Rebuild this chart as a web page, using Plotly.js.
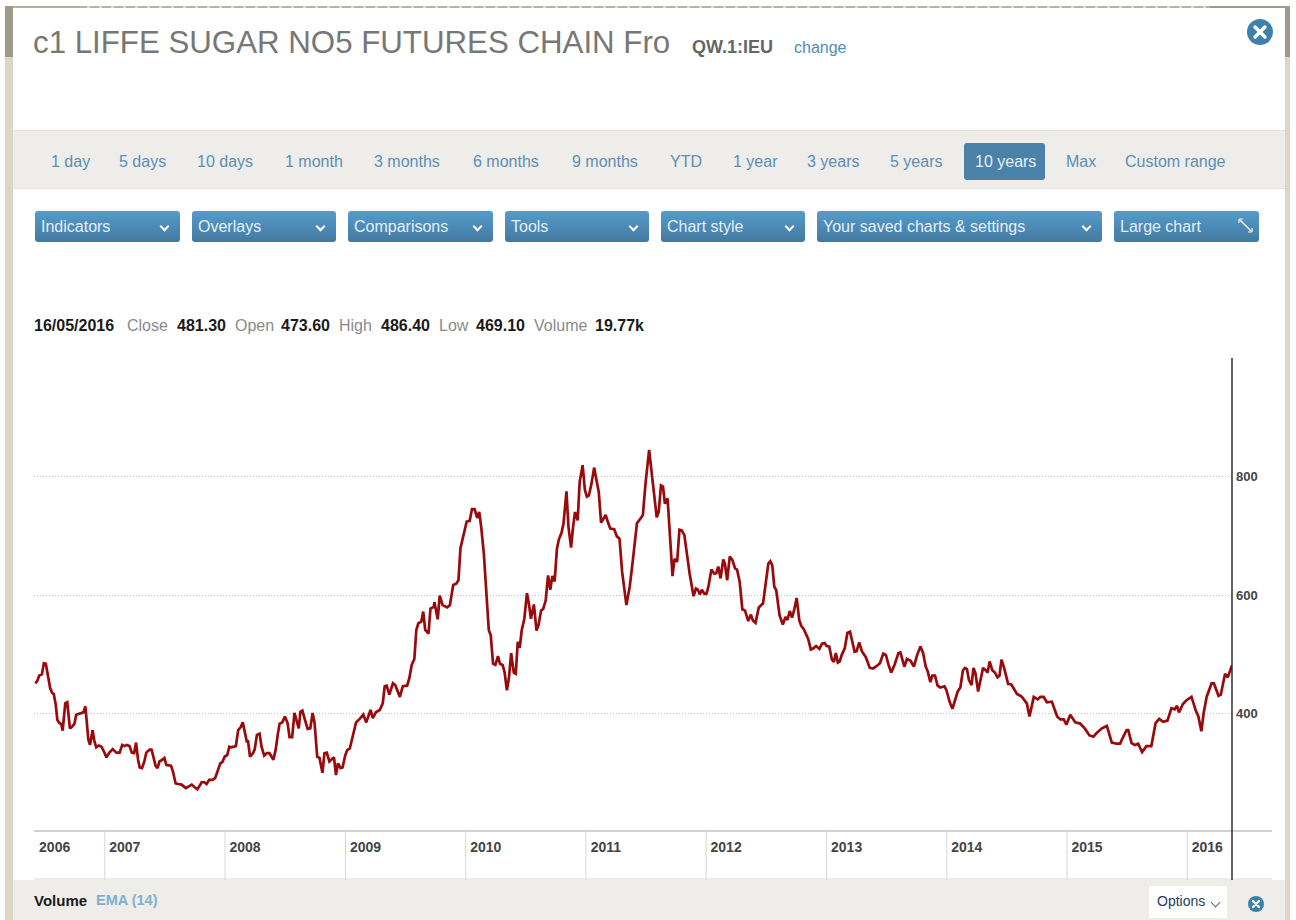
<!DOCTYPE html>
<html>
<head>
<meta charset="utf-8">
<script src="https://cdn.plot.ly/plotly-3.0.1.min.js"></script>
<style>
html,body{margin:0;padding:0;background:#fff;width:1296px;height:920px;overflow:hidden;font-family:"Liberation Sans",Arial,sans-serif}
#page{position:absolute;left:0;top:0;width:1296px;height:920px;overflow:hidden}
.abs{position:absolute;white-space:nowrap}
#plot{position:absolute;left:0;top:0;width:1296px;height:920px}
.btn{position:absolute;top:211px;height:31px;border-radius:3px;background:linear-gradient(#549ccd,#44799f);color:#e6eff6;font-size:16px;line-height:31px;padding-left:6px;box-sizing:border-box}
.chev{position:absolute;width:6px;height:6px;border-right:2px solid #fff;border-bottom:2px solid #fff;transform:rotate(45deg)}
.rng{position:absolute;top:153px;font-size:16px;line-height:18px;color:#5b90b6;white-space:nowrap}
.info{position:absolute;top:317px;font-size:16px;line-height:18px;white-space:nowrap}
.b{font-weight:bold;color:#1a1a1a}
.g{color:#8a8a8a}
</style>
</head>
<body>
<div id="page"></div>
<div id="plot"></div>
<script>
// Weekly-ish close values, one pair of lists per year
var d2006=["06-04","06-10","06-16","06-24","06-30","07-06","07-12","07-19","07-25","07-30","08-05","08-10","08-16","08-22","08-26","08-30","09-03","09-09","09-13","09-17","09-24","10-01","10-06","10-16","10-28","11-03","11-07","11-12","11-17","11-21","11-25","11-30","12-06","12-14","12-22","12-30"];
var v2006=[451,455,464,466,485,484,465,443,435,433,415,389,384,382,371,403,417,419,395,375,378,383,398,400,402,412,389,356,347,358,372,354,343,346,344,335];
var d2007=["01-06","01-15","01-25","02-05","02-15","02-23","03-02","03-09","03-17","03-24","03-31","04-06","04-12","04-17","04-24","05-01","05-07","05-17","05-23","05-29","06-04","06-10","06-16","06-25","07-01","07-07","07-14","07-21","07-27","08-04","08-12","08-22","09-04","09-14","09-22","09-30","10-09","10-16","10-22","10-30","11-06","11-14","11-24","12-02","12-10","12-18","12-24","12-31"];
var v2007=[326,334,340,334,334,347,345,347,345,334,333,351,322,309,308,319,334,339,339,326,312,308,319,322,325,313,312,312,302,282,281,280,274,278,280,276,272,278,284,284,281,288,288,291,305,316,318,327];
var d2008=["01-08","01-14","01-20","02-03","02-10","02-18","02-24","03-01","03-07","03-11","03-17","03-26","03-31","04-07","04-15","04-21","04-29","05-07","05-15","05-27","06-03","06-09","06-15","06-23","07-01","07-09","07-15","07-23","07-30","08-05","08-12","08-17","08-23","08-31","09-08","09-16","09-23","09-29","10-07","10-14","10-23","10-29","11-05","11-13","11-27","12-03","12-09","12-17","12-23","12-31"];
var v2008=[330,344,343,345,372,377,385,367,353,353,327,333,339,364,366,344,329,333,333,322,339,364,383,385,395,384,360,360,401,389,375,403,405,389,374,375,401,384,327,325,300,333,334,319,326,296,316,308,309,329];
var d2009=["01-06","01-14","01-22","02-02","02-13","02-24","03-05","03-18","03-25","04-03","04-15","04-24","04-30","05-06","05-14","05-25","06-01","06-15","06-24","07-07","07-14","07-21","07-29","08-04","08-10","08-19","08-25","08-31","09-10","09-16","09-26","09-28","10-08","10-14","10-23","11-06","11-14","11-24","12-03","12-10","12-16","12-26"];
var v2009=[338,341,361,385,391,398,385,406,392,402,406,417,446,447,432,451,448,428,446,447,460,482,492,541,552,555,572,541,535,577,580,588,559,599,583,579,583,617,619,625,679,701];
var d2010=["01-04","01-13","01-20","01-28","02-05","02-11","02-17","02-25","03-04","03-12","03-18","03-25","04-01","04-09","04-15","04-23","04-29","05-06","05-12","05-19","05-27","06-02","06-08","06-14","06-20","06-28","07-06","07-12","07-18","07-27","08-04","08-10","08-18","08-24","09-01","09-08","09-15","09-21","09-28","10-05","10-11","10-19","10-25","11-03","11-09","11-17","11-23","11-29","12-07","12-13","12-22","12-29"];
var v2010=[724,725,745,745,730,740,715,670,603,541,532,484,482,497,484,482,470,439,459,502,469,467,521,511,540,560,603,585,560,584,540,549,574,576,591,633,609,632,623,678,694,705,721,775,715,680,715,740,726,791,819,777];
var d2011=["01-04","01-10","01-18","01-26","02-02","02-09","02-16","02-22","03-02","03-10","03-16","03-28","04-05","04-13","04-21","05-04","05-14","05-24","06-05","06-17","06-23","07-01","07-12","07-20","07-28","08-04","08-10","08-17","08-23","08-29","09-06","09-14","09-21","09-27","10-05","10-12","10-19","10-27","11-04","11-12","11-24","12-01","12-07","12-13","12-19","12-27"];
var v2011=[766,768,788,815,794,774,722,727,735,721,712,711,699,695,639,583,614,661,721,730,735,788,845,805,766,731,740,785,783,754,763,681,632,661,656,710,709,701,667,636,598,611,609,601,609,602];
var d2012=["01-02","01-08","01-17","01-26","02-01","02-07","02-14","02-22","02-27","03-05","03-13","03-21","03-29","04-04","04-12","04-20","04-28","05-08","05-16","05-22","05-30","06-09","06-22","07-01","07-08","07-14","07-20","07-26","08-01","08-11","08-21","08-29","09-04","09-11","09-18","09-24","10-02","10-10","10-16","10-24","11-06","11-14","11-22","11-30","12-10","12-18","12-26"];
var v2012=[602,614,643,636,637,648,628,660,653,625,665,659,645,643,622,576,574,556,567,557,553,579,586,622,653,657,650,614,608,566,550,563,558,573,562,574,595,557,548,542,526,508,510,514,509,518,519];
var d2013=["01-01","01-09","01-17","01-23","01-29","02-04","02-10","02-16","02-25","03-05","03-13","03-21","03-27","04-02","04-10","04-18","04-30","05-12","05-22","06-04","06-12","06-22","06-30","07-08","07-16","07-26","08-07","08-13","08-25","09-02","09-13","09-23","10-03","10-13","10-21","10-29","11-04","11-12","11-18","11-26","12-04","12-12","12-25","12-31"];
var v2013=[514,513,491,487,502,486,488,499,510,536,538,519,504,505,520,505,495,477,476,481,485,501,499,482,469,482,502,503,479,492,489,479,499,513,502,479,471,453,464,464,447,444,446,439];
var d2014=["01-10","01-18","01-26","02-03","02-11","02-19","02-25","03-03","03-09","03-17","03-23","03-29","04-06","04-15","04-21","04-29","05-05","05-11","05-19","05-27","06-04","06-10","06-16","06-24","07-06","07-16","07-25","08-02","08-12","08-17","09-01","09-09","09-22","10-04","10-12","10-22","11-01","11-16","12-02","12-12","12-22","12-30"];
var v2014=[419,408,423,437,444,473,477,475,457,448,477,468,437,465,477,473,469,488,473,469,461,464,491,477,450,449,440,433,430,428,417,395,428,424,428,428,419,420,395,390,390,381];
var d2015=["01-11","01-26","02-10","02-25","03-10","03-22","04-01","04-17","05-02","05-17","06-01","06-11","06-21","07-01","07-06","07-16","07-26","08-05","08-17","08-30","09-14","09-27","10-08","10-20","11-02","11-14","11-24","12-01","12-07","12-19","12-29"];
var v2015=[398,385,383,374,363,361,367,375,379,351,349,349,361,372,372,350,347,349,335,345,345,384,391,386,388,409,407,413,402,416,422];
var d2016=["01-14","01-27","02-04","02-13","02-20","02-29","03-15","03-22","04-05","04-12","04-25","05-03","05-16"];
var v2016=[428,405,395,370,401,428,451,451,430,432,467,461,481];

var years=[2006,2007,2008,2009,2010,2011,2012,2013,2014,2015,2016];
var yearDates=[d2006,d2007,d2008,d2009,d2010,d2011,d2012,d2013,d2014,d2015,d2016];
var yearValues=[v2006,v2007,v2008,v2009,v2010,v2011,v2012,v2013,v2014,v2015,v2016];
var dates=[],closes=[];
years.forEach(function(y,i){
  yearDates[i].forEach(function(md,j){dates.push(y+"-"+md);closes.push(yearValues[i][j]);});
});

var yearTickDates=["2006-06-02","2007-01-01","2008-01-01","2009-01-01","2010-01-01","2011-01-01","2012-01-01","2013-01-01","2014-01-01","2015-01-01","2016-01-01"];
var yearTickLabels=["2006","2007","2008","2009","2010","2011","2012","2013","2014","2015","2016"];
var priceTicks=[400,600,800];

// ---- page furniture around the chart ----
var page=document.getElementById('page');
function add(css,html,cls){var e=document.createElement('div');e.className=cls||'abs';e.style.cssText=css;if(html)e.innerHTML=html;page.appendChild(e);return e;}
add('left:5px;top:8px;width:8px;height:912px;background:#ddd5c6');
add('left:5px;top:6px;width:8px;height:51px;background:#a09a8c');
add('left:1285px;top:8px;width:5px;height:912px;background:#ddd5c6');
add('left:1285px;top:6px;width:5px;height:51px;background:#a09a8c');
add('left:13px;top:6px;width:65px;height:2px;background:#b5af9f');
add('left:78px;top:6px;width:1132px;height:2px;background:repeating-linear-gradient(90deg,#b9b2a1 0 9px,#e0dacd 9px 12px)');
add('left:1210px;top:6px;width:75px;height:2px;background:#a09a8c');
add('left:13px;top:130px;width:1272px;height:59px;background:#eeedea;border-top:1px solid #e4e3de;border-bottom:1px solid #e4e3de;box-sizing:border-box');
add('left:13px;top:880px;width:1272px;height:40px;background:#eeedea');
add('left:964px;top:143px;width:81px;height:37px;background:#4a82aa;border-radius:3px');

[["1 day",51],["5 days",119],["10 days",197],["1 month",285],["3 months",374],["6 months",473],["9 months",572],["YTD",670],["1 year",733],["3 years",807],["5 years",890],["10 years",975,"#e8f0f6"],["Max",1066],["Custom range",1125]].forEach(function(r){
  add('left:'+r[1]+'px;'+(r[2]?'color:'+r[2]+';':''),r[0],'rng');
});
[["Indicators",35,145],["Overlays",192,144],["Comparisons",348,145],["Tools",505,144],["Chart style",661,144],["Your saved charts &amp; settings",817,285]].forEach(function(b){
  add('left:'+b[1]+'px;width:'+b[2]+'px',b[0],'btn');
  add('left:'+(b[1]+b[2]-19)+'px;top:223px;width:5px;height:5px','', 'chev');
});
add('left:1114px;width:145px','Large chart','btn');
var arrow='<svg width="16" height="16" xmlns="http://www.w3.org/2000/svg"><path d="M2 2 L13 13" stroke="#eef4f9" stroke-width="1.6"/><path d="M1 1h4M1 1v4M14 14h-4M14 14v-4" stroke="#eef4f9" stroke-width="1.2"/></svg>';
add('left:1238px;top:218px;width:16px;height:16px',arrow);

add('left:692px;top:38px;font-size:18px;line-height:18px;font-weight:bold;color:#666','QW.1:IEU');
add('left:794px;top:39px;font-size:16px;line-height:18px;color:#4f8db8','change');
[["16/05/2016",34,1],["Close",127,0],["481.30",177,1],["Open",235,0],["473.60",281,1],["High",339,0],["486.40",381,1],["Low",439,0],["469.10",476,1],["Volume",534,0],["19.77k",595,1]].forEach(function(t){
  add('left:'+t[1]+'px','<span class="'+(t[2]?'b':'g')+'">'+t[0]+'</span>','info');
});
add('left:34px;top:892px;font-size:15px;line-height:17px;font-weight:bold;color:#1a1a1a','Volume');
add('left:96px;top:892px;font-size:14.5px;line-height:17px;font-weight:bold;color:#80b1d1','EMA (14)');
add('left:1149px;top:886px;width:78px;height:32px;background:#fff');
add('left:1157px;top:893px;font-size:14px;line-height:16px;color:#23405c','Options');
add('left:1212px;top:899px;width:6px;height:6px;border-right:1.5px solid #666;border-bottom:1.5px solid #666;transform:rotate(45deg)','','chev');
function closeIcon(cx,cy,r){
  var a=r*0.38,s=r*0.27;
  add('left:'+(cx-r)+'px;top:'+(cy-r)+'px;width:'+(2*r)+'px;height:'+(2*r)+'px',
  '<svg width="'+(2*r)+'" height="'+(2*r)+'" xmlns="http://www.w3.org/2000/svg"><circle cx="'+r+'" cy="'+r+'" r="'+r+'" fill="#3f7fac"/><path d="M'+(r-a)+' '+(r-a)+'L'+(r+a)+' '+(r+a)+'M'+(r+a)+' '+(r-a)+'L'+(r-a)+' '+(r+a)+'" stroke="#fff" stroke-width="'+s+'" stroke-linecap="round"/></svg>');
}
closeIcon(1260,32,13);
closeIcon(1256,904,8);

// ---- chart ----
var plotLeft=34,plotRight=1232,plotTop=358,plotBottom=831;
var xRight=(1272-plotLeft)/(plotRight-plotLeft);
var yStrip=-(880-plotBottom)/(plotBottom-plotTop);
var rule='#d2d1cb';
var shapes=[
 {type:'line',xref:'paper',yref:'paper',x0:0,x1:xRight,y0:0,y1:0,line:{color:rule,width:2}},
 {type:'line',xref:'paper',yref:'paper',x0:0,x1:xRight,y0:yStrip+0.002,y1:yStrip+0.002,line:{color:'#dddcd6',width:1}}
];
yearTickDates.slice(1).forEach(function(d){
  shapes.push({type:'line',xref:'x',yref:'paper',x0:d,x1:d,y0:yStrip,y1:0,line:{color:'#d8d7d1',width:1}});
});
shapes.push({type:'line',xref:'paper',yref:'paper',x0:1,x1:1,y0:yStrip,y1:1,line:{color:'#222',width:1.4}});

var trace={type:'scatter',mode:'lines',x:dates,y:closes,name:'Close',line:{color:'#990a0c',width:2.7,shape:'linear'},hoverinfo:'x+y',cliponaxis:false};
var layout={
  width:1296,height:920,autosize:false,
  paper_bgcolor:'rgba(0,0,0,0)',plot_bgcolor:'rgba(0,0,0,0)',
  showlegend:false,
  margin:{l:plotLeft,r:1296-plotRight,t:plotTop,b:920-plotBottom,pad:0},
  font:{family:'"Liberation Sans",Arial,sans-serif'},
  title:{text:'c1 LIFFE SUGAR NO5 FUTURES CHAIN Fro',font:{family:'"Liberation Sans",Arial,sans-serif',size:31.25,color:'#777'},
         xref:'container',yref:'container',x:33/1296,xanchor:'left',y:1-42/920,yanchor:'middle',pad:{l:0,r:0,t:0,b:0}},
  xaxis:{type:'date',range:['2006-05-31','2016-05-16'],tickmode:'array',tickvals:yearTickDates,ticktext:yearTickLabels,
         ticks:'',showgrid:false,zeroline:false,showline:false,ticklabelshift:20,ticklabelstandoff:6,
         tickfont:{family:'"Liberation Sans",Arial,sans-serif',size:14,color:'#444',weight:'bold'}},
  yaxis:{type:'linear',range:[201.7,1000],side:'right',tickmode:'array',tickvals:priceTicks,ticktext:priceTicks.map(String),
         ticks:'',showgrid:true,griddash:'1px,2px',gridcolor:'#c4c4be',gridwidth:1,zeroline:false,showline:false,ticklabelstandoff:3,
         tickfont:{family:'"Liberation Sans",Arial,sans-serif',size:13,color:'#444',weight:'bold'}},
  shapes:shapes
};
Plotly.newPlot('plot',[trace],layout,{displayModeBar:false,staticPlot:true});
</script>
</body>
</html>
